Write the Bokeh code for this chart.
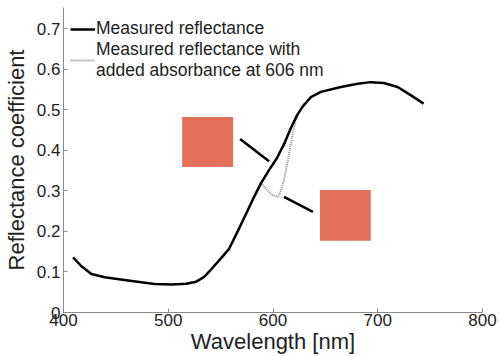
from bokeh.plotting import figure
from bokeh.models import Legend, LegendItem, FixedTicker, Range1d
from bokeh.embed import file_html
from bokeh.resources import INLINE

# Measured reflectance
wl = [409.2, 417.1, 426.7, 439.3, 461.6, 487.0, 502.9, 517.1, 526.7, 534.3,
      541.9, 550.5, 558.1, 565.7, 573.3, 581.0, 588.6, 596.2, 603.8, 610.5,
      617.1, 622.9, 628.6, 636.2, 645.7, 664.8, 681.0, 693.3, 705.7, 719.0,
      731.4, 743.8]
refl = [0.136, 0.114, 0.095, 0.087, 0.079, 0.070, 0.069, 0.071, 0.076, 0.088,
        0.109, 0.134, 0.157, 0.197, 0.238, 0.280, 0.319, 0.351, 0.381, 0.415,
        0.455, 0.486, 0.509, 0.531, 0.544, 0.556, 0.564, 0.568, 0.566, 0.556,
        0.536, 0.515]

# Measured reflectance with added absorbance at 606 nm
wl_abs = [588.6, 594.3, 599.0, 604.8, 607.6, 610.5, 613.3, 616.2, 619.0,
          621.9, 624.8]
refl_abs = [0.319, 0.302, 0.290, 0.285, 0.300, 0.327, 0.364, 0.403, 0.442,
            0.479, 0.494]

# Colour swatches (left, right, bottom, top) and their pointer lines
sq_left = [513.3, 644.8]
sq_right = [561.9, 693.3]
sq_bottom = [0.359, 0.177]
sq_top = [0.482, 0.302]
ptr_x0 = [568.6, 610.5]
ptr_y0 = [0.4275, 0.285]
ptr_x1 = [596.2, 638.1]
ptr_y1 = [0.373, 0.248]

x_ticks = [400, 500, 600, 700, 800]
y_ticks = [0, 0.1, 0.2, 0.3, 0.4, 0.5, 0.6, 0.7]

FONT = "Liberation Sans"
TXT = "#222222"
AX = "#8a8a8a"

p = figure(width=501, height=356, output_backend="svg", toolbar_location=None,
           x_range=Range1d(400, 800), y_range=Range1d(0, 0.752),
           min_border_left=62, min_border_right=19, min_border_top=7,
           min_border_bottom=43)
p.outline_line_color = None
p.xgrid.visible = False
p.ygrid.visible = False
p.background_fill_color = "white"
p.border_fill_color = "white"

p.quad(left=sq_left, right=sq_right, bottom=sq_bottom, top=sq_top,
       fill_color="#e2705a", line_color=None)
p.segment(x0=ptr_x0, y0=ptr_y0, x1=ptr_x1, y1=ptr_y1, line_color="black",
          line_width=2.5)

r_abs = p.line(wl_abs, refl_abs, line_color="#9a8c8c", line_width=2,
               line_dash="1 1")
r_main = p.line(wl, refl, line_color="black", line_width=2.5,
                line_join="round")

for ax in (p.xaxis[0], p.yaxis[0]):
    ax.axis_line_color = AX
    ax.major_tick_line_color = AX
    ax.major_tick_in = 4
    ax.major_tick_out = 0
    ax.minor_tick_line_color = None
    ax.major_label_text_font = FONT
    ax.major_label_text_font_size = "17px"
    ax.major_label_text_color = TXT
    ax.axis_label_text_font = FONT
    ax.axis_label_text_font_size = "22px"
    ax.axis_label_text_font_style = "normal"
    ax.axis_label_text_color = TXT

p.xaxis.ticker = FixedTicker(ticks=x_ticks)
p.yaxis.ticker = FixedTicker(ticks=y_ticks)
p.yaxis.major_label_overrides = {0: "0"}
p.xaxis.axis_label = "Wavelength [nm]"
p.yaxis.axis_label = "Reflectance coefficient"
p.xaxis.major_label_standoff = 1
p.xaxis.axis_label_standoff = 0
p.yaxis.major_label_standoff = 3
p.yaxis.axis_label_standoff = 5

legend = Legend(items=[
    LegendItem(label="Measured reflectance", renderers=[r_main]),
    LegendItem(label="Measured reflectance with\nadded absorbance at 606 nm",
               renderers=[r_abs]),
], location=(7, 231))
legend.background_fill_alpha = 0
legend.border_line_color = None
legend.label_text_font = FONT
legend.label_text_font_size = "17.5px"
legend.label_text_color = TXT
legend.glyph_width = 25
legend.margin = 0
legend.padding = 5
legend.spacing = 0
legend.label_standoff = 1
p.add_layout(legend)

open("out.html", "w").write(file_html(p, INLINE))
